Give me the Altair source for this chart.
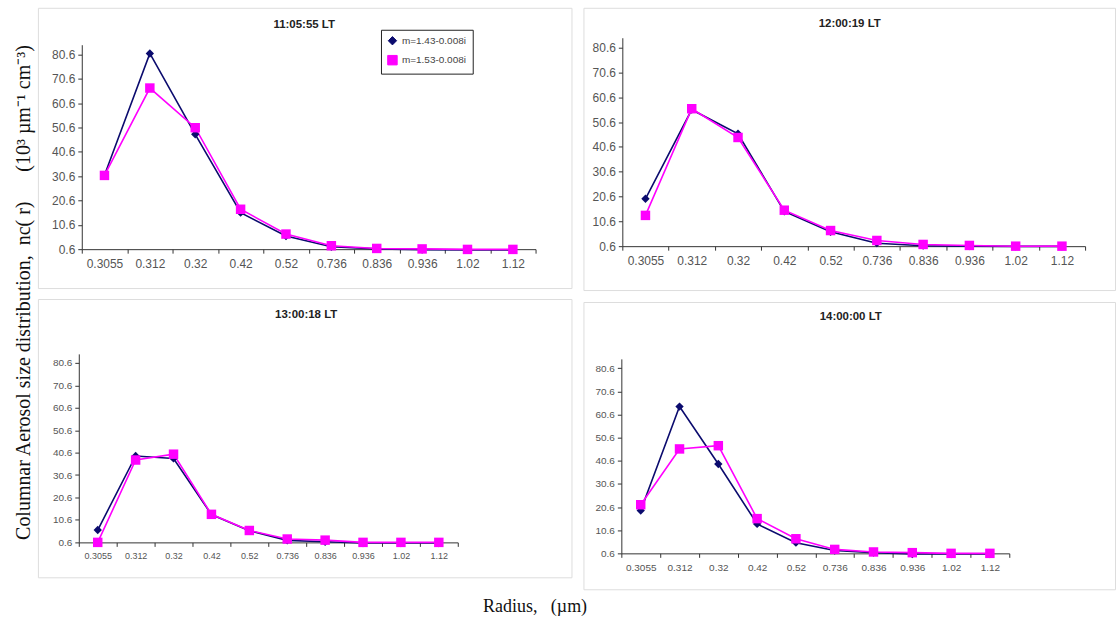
import altair as alt
import pandas as pd

# ---------------- data ----------------
radius = ["0.3055", "0.312", "0.32", "0.42", "0.52", "0.736", "0.836", "0.936", "1.02", "1.12"]
series_names = ["m=1.43-0.008i", "m=1.53-0.008i"]
series_colors = ["#0b0b6e", "#ff00ff"]
y_ticks = [0.6, 10.6, 20.6, 30.6, 40.6, 50.6, 60.6, 70.6, 80.6]
titles = ["11:05:55 LT", "12:00:19 LT", "13:00:18  LT", "14:00:00 LT"]
y_label = ("Columnar Aerosol size distribution,\u00a0\u00a0nc(\u00a0r)"
           "\u00a0\u00a0\u00a0\u00a0\u00a0\u00a0(10\u00b3 \u00b5m\u207b\u00b9 cm\u207b\u00b3)")
x_label = "Radius,\u00a0\u00a0\u00a0(\u00b5m)"

p1_m143 = [31.0, 81.0, 47.8, 15.6, 6.0, 1.6, 0.7, 0.4, 0.3, 0.3]
p1_m153 = [30.9, 66.8, 50.5, 17.0, 6.8, 2.0, 0.9, 0.7, 0.5, 0.5]
p2_m143 = [19.7, 55.6, 45.9, 14.6, 6.4, 1.8, 0.8, 0.6, 0.5, 0.5]
p2_m153 = [13.0, 56.0, 44.4, 15.1, 6.9, 2.9, 1.3, 0.9, 0.6, 0.6]
p3_m143 = [6.1, 39.1, 38.0, 13.0, 5.8, 1.5, 0.9, 0.3, 0.3, 0.3]
p3_m153 = [0.6, 37.3, 39.9, 13.1, 5.9, 2.1, 1.6, 0.6, 0.6, 0.6]
p4_m143 = [19.1, 64.0, 39.2, 13.3, 5.2, 1.8, 0.9, 0.3, 0.3, 0.3]
p4_m153 = [21.6, 45.7, 47.1, 15.6, 6.9, 2.3, 1.2, 0.9, 0.6, 0.6]

panel_values = [(p1_m143, p1_m153), (p2_m143, p2_m153), (p3_m143, p3_m153), (p4_m143, p4_m153)]

# ---------------- layout (pixels inside each framed panel) ----------------
layouts = [
    dict(w=535, h=281, x0=44, x1=499, y0=242, ytop=37, tx=267, ty=17, yfs=12, xfs=12),
    dict(w=533, h=283, x0=39, x1=503, y0=239, ytop=30, tx=267, ty=16, yfs=12, xfs=12),
    dict(w=535, h=279, x0=41, x1=421, y0=244, ytop=55, tx=269, ty=16, yfs=10, xfs=9),
    dict(w=533, h=288, x0=38, x1=427, y0=252, ytop=57, tx=268, ty=15, yfs=10, xfs=10),
]

SANS = "Liberation Sans"
SERIF = "Liberation Serif"


def make_panel(i):
    a, b = panel_values[i]
    L = layouts[i]
    df = pd.DataFrame({
        "radius": radius + radius,
        "value": a + b,
        "series": [series_names[0]] * len(radius) + [series_names[1]] * len(radius),
    })
    x = alt.X(
        "radius:N", sort=radius,
        scale=alt.Scale(type="band", paddingInner=0, paddingOuter=0, range=[L["x0"], L["x1"]]),
        axis=alt.Axis(title=None, offset=-(L["h"] - L["y0"]), tickBand="extent", tickSize=4,
                      labelAngle=0, labelFontSize=L["xfs"], labelFont=SANS, labelColor="#555",
                      labelPadding=5, labelOverlap=False, labelFlush=False,
                      domainColor="#333", tickColor="#333", grid=False),
    )
    y = alt.Y(
        "value:Q",
        scale=alt.Scale(domain=[0.6, 84.6], range=[L["y0"], L["ytop"]], nice=False, zero=False),
        axis=alt.Axis(title=None, offset=-L["x0"], values=y_ticks, format=".1f", tickSize=4,
                      labelFontSize=L["yfs"], labelFont=SANS, labelColor="#555", labelPadding=3,
                      labelOverlap=False, labelFlush=False,
                      domainColor="#333", tickColor="#333", grid=False),
    )
    if i == 0:
        leg = alt.Legend(title=None, orient="none", legendX=344, legendY=22, padding=6,
                         strokeColor="#222", fillColor="white", labelFontSize=10, labelFont=SANS,
                         labelColor="#444", symbolSize=50, rowPadding=5, symbolStrokeWidth=1)
    else:
        leg = None
    cscale = alt.Scale(domain=series_names, range=series_colors)
    base = alt.Chart(df).encode(x=x, y=y)
    lines = base.mark_line(strokeWidth=1.6).encode(
        color=alt.Color("series:N", scale=cscale, legend=leg)
    )
    pts = base.mark_point(filled=True, opacity=1).encode(
        color=alt.Color("series:N", scale=cscale, legend=leg),
        shape=alt.Shape("series:N", scale=alt.Scale(domain=series_names, range=["diamond", "square"]), legend=leg),
        size=alt.Size("series:N", scale=alt.Scale(domain=series_names, range=[70, 90]), legend=None),
    )
    ttl = alt.Chart(pd.DataFrame({"t": [titles[i]]})).mark_text(
        font=SANS, fontSize=11.5, fontWeight="bold", color="#222"
    ).encode(text="t:N", x=alt.value(L["tx"]), y=alt.value(L["ty"]))
    return alt.layer(lines, pts, ttl).properties(width=L["w"], height=L["h"])


panels = [make_panel(i) for i in range(4)]
ind = dict(color="independent", shape="independent", size="independent")

colA = alt.vconcat(
    panels[0], panels[2], spacing=9,
    title=alt.TitleParams(y_label, orient="left", anchor="middle", font=SERIF, fontSize=20,
                          fontWeight="normal", color="#111", offset=3),
).resolve_scale(**ind)
colB = alt.vconcat(panels[1], panels[3], spacing=10).resolve_scale(**ind)

chart = alt.hconcat(
    colA, colB, spacing=10,
    title=alt.TitleParams(x_label, orient="bottom", anchor="middle", font=SERIF, fontSize=18,
                          fontWeight="normal", color="#111", offset=8, dx=-30),
).resolve_scale(**ind).properties(
    padding={"left": 14, "top": 6, "right": 1, "bottom": 4}
).configure_view(stroke="#6e6e6e", strokeWidth=1.5).configure(background="white")

chart.save("out.html", embed_options={"renderer": "svg", "actions": False})
